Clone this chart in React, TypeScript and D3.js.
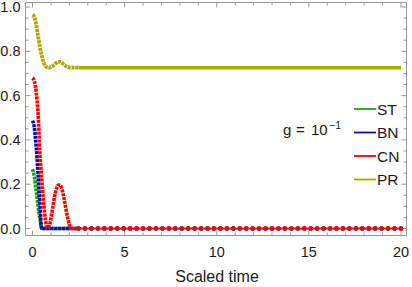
import * as d3 from "d3";

// time samples (scaled time)
const earlyT = [0, 0.1, 0.2, 0.3, 0.4, 0.5, 0.6, 0.7, 0.8, 0.9, 1.0, 1.1, 1.2, 1.3, 1.4, 1.5, 1.6, 1.7, 1.8, 1.9, 2.0, 2.1, 2.2, 2.3, 2.4];
const tailT = [2.5, 2.85, 3.2, 3.55, 3.9, 4.25, 4.6, 4.95, 5.3, 5.65, 6.0, 6.35, 6.7, 7.05, 7.4, 7.75, 8.1, 8.45, 8.8, 9.15, 9.5, 9.85, 10.2, 10.55, 10.9, 11.25, 11.6, 11.95, 12.3, 12.65, 13.0, 13.35, 13.7, 14.05, 14.4, 14.75, 15.1, 15.45, 15.8, 16.15, 16.5, 16.85, 17.2, 17.55, 17.9, 18.25, 18.6, 18.95, 19.3, 19.65, 20.0];

// early values, then steady level
const stValues = [0.268, 0.235, 0.17, 0.105, 0.045, 0, 0, 0, 0, 0, 0, 0, 0, 0, 0, 0, 0, 0, 0, 0, 0, 0, 0, 0, 0];
const bnValues = [0.487, 0.455, 0.37, 0.25, 0.11, 0, 0, 0, 0, 0, 0, 0, 0, 0, 0, 0, 0, 0, 0, 0, 0, 0, 0, 0, 0];
const cnValues = [0.68, 0.665, 0.615, 0.52, 0.345, 0.225, 0.12, 0.04, 0.003, 0.01, 0.045, 0.095, 0.145, 0.18, 0.196, 0.195, 0.178, 0.14, 0.095, 0.05, 0.018, 0.002, 0, 0, 0];
const prValues = [0.965, 0.955, 0.92, 0.87, 0.82, 0.78, 0.75, 0.733, 0.727, 0.726, 0.728, 0.733, 0.741, 0.748, 0.752, 0.752, 0.748, 0.741, 0.734, 0.729, 0.727, 0.726, 0.726, 0.726, 0.726];
const steady = { ST: 0, BN: 0, CN: 0, PR: 0.726 };

const names = ["ST", "BN", "CN", "PR"];
const colors = ["#18a018", "#0c0ca0", "#ff0000", "#aaaa00"];
const xTicks = [0, 5, 10, 15, 20];
const yTicks = [0, 0.2, 0.4, 0.6, 0.8, 1.0];

const W = 412, H = 287;
const frame = { left: 25.5, right: 406.5, top: 2.5, bottom: 235.5 };
const font = "'Liberation Sans', Arial, Helvetica, sans-serif";

export default function App() {
  const x = d3.scaleLinear().domain([0, 20]).range([32.5, 401]);
  const y = d3.scaleLinear().domain([0, 1]).range([228.5, 7]);

  const series = [stValues, bnValues, cnValues, prValues].map((vals, i) => {
    const early = vals.map((v, j) => [earlyT[j], v] as [number, number]);
    const level = steady[names[i] as keyof typeof steady];
    const tail = tailT.map((t) => [t, level] as [number, number]);
    return { name: names[i], color: colors[i], early, tail };
  });

  const line = d3.line<[number, number]>()
    .x((d) => x(d[0]))
    .y((d) => y(d[1]))
    .curve(d3.curveMonotoneX);

  const xMinor = d3.range(0, 21, 1);
  const yMinor = d3.range(0, 1.0001, 0.05);

  const legendY = [109, 132.5, 156, 179.5];

  return (
    <svg width={W} height={H} style={{ position: "absolute", left: 0, top: 0, background: "#fff" }} fontFamily={font}>
      {/* frame */}
      <rect x={frame.left} y={frame.top} width={frame.right - frame.left} height={frame.bottom - frame.top}
        fill="none" stroke="#999" strokeWidth={1} />
      {/* ticks */}
      {xMinor.map((t) => {
        const len = t % 5 === 0 ? 5 : 3;
        return (
          <g key={"xt" + t} stroke="#999" strokeWidth={1}>
            <line x1={x(t)} x2={x(t)} y1={frame.bottom} y2={frame.bottom - len} />
            <line x1={x(t)} x2={x(t)} y1={frame.top} y2={frame.top + len} />
          </g>
        );
      })}
      {yMinor.map((v, i) => {
        const len = i % 4 === 0 ? 5 : 3;
        return (
          <g key={"yt" + i} stroke="#999" strokeWidth={1}>
            <line x1={frame.left} x2={frame.left + len} y1={y(v)} y2={y(v)} />
            <line x1={frame.right} x2={frame.right - len} y1={y(v)} y2={y(v)} />
          </g>
        );
      })}
      {/* tick labels */}
      {xTicks.map((t) => (
        <text key={"xl" + t} x={x(t)} y={256.5} textAnchor="middle" fontSize={14.5} fill="#1a1a1a">{t}</text>
      ))}
      {yTicks.map((v) => (
        <text key={"yl" + v} x={20.5} y={y(v) + 5} textAnchor="end" fontSize={14.5} fill="#1a1a1a">{v.toFixed(1)}</text>
      ))}
      <text x={217} y={282} textAnchor="middle" fontSize={16} fill="#1a1a1a">Scaled time</text>

      {/* data */}
      {series.map((s) => (
        <g key={s.name}>
          {s.name === "PR" ? (
            <>
              <path d={line(s.tail) || ""} fill="none" stroke={s.color} strokeWidth={3.6} />
              <path d={line([...s.early, s.tail[0]]) || ""} fill="none" stroke={s.color} strokeWidth={3.8} strokeDasharray="3 0.8" />
            </>
          ) : (
            <>
              <path d={line([s.early[s.early.length - 1], ...s.tail]) || ""} fill="none" stroke={s.color}
                strokeWidth={s.name === "CN" ? 1 : 1.6} />
              <path d={line(s.early) || ""} fill="none" stroke={s.color} strokeWidth={3.6} strokeDasharray="3 0.9" />
              {s.tail.map((d, j) => (
                <circle key={j} cx={x(d[0])} cy={y(d[1])} r={2.2} fill={s.color} />
              ))}
            </>
          )}
        </g>
      ))}

      {/* legend */}
      {series.map((s, i) => (
        <g key={"lg" + s.name}>
          <line x1={354} x2={376} y1={legendY[i]} y2={legendY[i]} stroke={s.color} strokeWidth={1.8} />
          <text x={377} y={legendY[i] + 5.5} fontSize={15.5} fill="#1a1a1a">{s.name}</text>
        </g>
      ))}
      <text y={135} fontSize={15} fill="#1a1a1a">
        <tspan x={283}>g</tspan>
        <tspan x={296}>=</tspan>
        <tspan x={311}>10</tspan>
        <tspan x={329} dy={-6.5} fontSize={10.5}>−1</tspan>
      </text>
    </svg>
  );
}
